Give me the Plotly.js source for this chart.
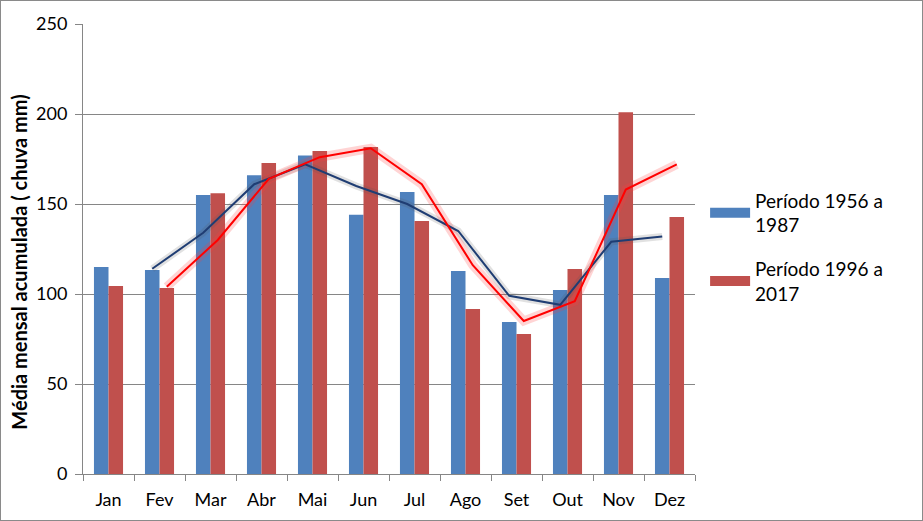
<!DOCTYPE html>
<html>
<head>
<meta charset="utf-8">
<script src="https://cdn.plot.ly/plotly-3.0.1.min.js"></script>
<style>
html,body{margin:0;padding:0;background:#fff;}
#chart{width:923px;height:521px;box-sizing:border-box;border:1px solid #8a8a8a;}
</style>
</head>
<body>
<div id="chart"></div>
<script>
const months = ["Jan","Fev","Mar","Abr","Mai","Jun","Jul","Ago","Set","Out","Nov","Dez"];
const period1 = [115, 113.3, 155, 166, 177, 144, 156.7, 112.8, 84.4, 102.2, 155, 108.9];
const period2 = [104.4, 103.3, 156, 172.8, 179.4, 181.7, 140.6, 91.7, 77.8, 113.9, 201, 142.8];
const trend1 = [null, 114, 134, 161, 172, 160, 150, 135, 99, 94, 129, 132];
const trend2 = [null, 104, 130, 164, 176, 181, 161, 116, 85, 96, 158, 172];
const name1 = "Período 1956 a<br>1987";
const name2 = "Período 1996 a<br>2017";
const color1 = "#4F81BD";
const color2 = "#C0504D";

const traces = [
  {type:"bar", x:months, y:period1, name:name1, showlegend:false, offsetgroup:"a", marker:{color:color1}},
  {type:"bar", x:months, y:period2, name:name2, showlegend:false, offsetgroup:"b", marker:{color:color2}},
  {type:"scatter", mode:"lines", x:months, y:trend1, offsetgroup:"a", showlegend:false,
   line:{color:"rgba(90,90,90,0.18)", width:7}, hoverinfo:"skip"},
  {type:"scatter", mode:"lines", x:months, y:trend2, offsetgroup:"b", showlegend:false,
   line:{color:"rgba(255,60,60,0.22)", width:9}, hoverinfo:"skip"},
  {type:"scatter", mode:"lines", x:months, y:trend1, offsetgroup:"a", showlegend:false,
   line:{color:"#1F3D73", width:2}},
  {type:"scatter", mode:"lines", x:months, y:trend2, offsetgroup:"b", showlegend:false,
   line:{color:"#FF0000", width:2}},
  // legend-only entries (wide colour swatches like the original)
  {type:"scatter", mode:"lines", x:[null], y:[null], name:name1, legendgroup:"g1", offsetgroup:"a",
   line:{color:color1, width:12}},
  {type:"scatter", mode:"lines", x:[null], y:[null], name:name2, legendgroup:"g2", offsetgroup:"b",
   line:{color:color2, width:12}}
];

const layout = {
  width:921, height:519,
  margin:{l:82, r:227, t:23, b:46},
  paper_bgcolor:"#fff", plot_bgcolor:"#fff",
  font:{family:"Lato, 'Open Sans', sans-serif", color:"#000", size:18},
  barmode:"group", bargap:0.43, bargroupgap:0,
  scattermode:"group", scattergap:0.43,
  xaxis:{type:"category", showline:true, linecolor:"#868686", linewidth:1,
    ticks:"outside", tickson:"boundaries", ticklen:6, tickcolor:"#868686",
    showgrid:false, tickfont:{size:18}, ticklabelstandoff:9},
  yaxis:{range:[0,250], tickvals:[0,50,100,150,200,250], showline:true, linecolor:"#868686",
    ticks:"outside", ticklen:7, tickcolor:"#868686", gridcolor:"#868686", gridwidth:1,
    zeroline:false, tickfont:{size:18}, ticklabelstandoff:4},
  annotations:[{text:"<b>Média mensal acumulada ( chuva mm)</b>", textangle:-90,
    xref:"paper", yref:"paper", x:-0.106, y:0.47, xanchor:"center", yanchor:"middle",
    showarrow:false, font:{size:20}}],
  legend:{x:1.0165, y:0.65, xanchor:"left", yanchor:"top", font:{size:19}, tracegroupgap:16,
    itemwidth:40, bgcolor:"rgba(0,0,0,0)"},
  showlegend:true
};
Plotly.newPlot("chart", traces, layout, {displayModeBar:false, staticPlot:true});
</script>
</body>
</html>
